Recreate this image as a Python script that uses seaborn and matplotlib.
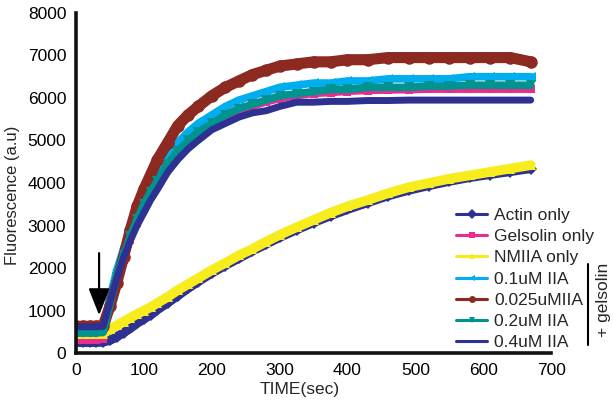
import numpy as np
import pandas as pd
import matplotlib
matplotlib.use("Agg")
import matplotlib.pyplot as plt
from matplotlib.lines import Line2D
import seaborn as sns

sns.set_style("white")
plt.rcParams['font.family'] = ['Liberation Sans', 'DejaVu Sans']

# ---- data ----
time = [0, 10, 20, 30, 40, 50, 60, 70, 80, 90, 100, 110, 120, 135, 150, 165, 180,
        200, 220, 240, 260, 280, 300, 325, 350, 375, 400, 430, 460, 490, 520, 550,
        580, 610, 640, 670]

actin_only = [250, 250, 250, 250, 260, 300, 380, 480, 580, 700, 800, 900, 1020, 1180,
              1350, 1520, 1680, 1880, 2060, 2230, 2400, 2560, 2720, 2900, 3070, 3230,
              3380, 3540, 3700, 3830, 3940, 4040, 4130, 4200, 4270, 4340]
gelsolin_only = [300, 300, 300, 300, 320, 1050, 1700, 2200, 2650, 3050, 3400, 3700,
                 3950, 4350, 4650, 4900, 5100, 5320, 5520, 5680, 5800, 5900, 5980, 6050,
                 6100, 6120, 6150, 6170, 6180, 6190, 6200, 6200, 6200, 6200, 6200, 6200]
nmiia_only = [450, 450, 450, 450, 460, 560, 650, 740, 830, 920, 1000, 1080, 1180, 1320,
              1480, 1620, 1760, 1950, 2120, 2300, 2450, 2620, 2780, 2960, 3130, 3300,
              3450, 3600, 3760, 3900, 4000, 4100, 4180, 4260, 4340, 4420]
iia_0_1 = [600, 600, 600, 600, 620, 1300, 1950, 2450, 2950, 3350, 3700, 4000, 4250,
           4650, 4950, 5200, 5400, 5600, 5800, 5950, 6050, 6150, 6250, 6300, 6350, 6350,
           6400, 6400, 6450, 6450, 6450, 6450, 6500, 6500, 6500, 6500]
iia_0_025 = [630, 630, 630, 630, 640, 1100, 1650, 2250, 2900, 3450, 3850, 4200, 4550,
             4950, 5350, 5600, 5800, 6050, 6250, 6400, 6550, 6650, 6750, 6800, 6850, 6850,
             6900, 6900, 6950, 6950, 6950, 6950, 6950, 6950, 6950, 6850]
iia_0_2 = [470, 470, 470, 470, 490, 1150, 1800, 2300, 2750, 3150, 3500, 3800, 4050,
           4450, 4750, 5000, 5200, 5400, 5600, 5750, 5850, 5950, 6050, 6100, 6150, 6200,
           6200, 6250, 6250, 6250, 6280, 6280, 6300, 6300, 6300, 6300]
iia_0_4 = [620, 620, 620, 620, 630, 1200, 1750, 2250, 2650, 3000, 3300, 3600, 3850,
           4250, 4550, 4800, 5000, 5250, 5400, 5550, 5650, 5700, 5800, 5900, 5900, 5920,
           5920, 5940, 5940, 5950, 5950, 5950, 5950, 5950, 5950, 5950]

labels = ["Actin only", "Gelsolin only", "NMIIA only", "0.1uM IIA",
          "0.025uMIIA", "0.2uM IIA", "0.4uM IIA"]
series = [actin_only, gelsolin_only, nmiia_only, iia_0_1, iia_0_025, iia_0_2, iia_0_4]
colors = ["#2E3192", "#EC2C8C", "#F7EC1E", "#00AEEF", "#8C2A22", "#00938F", "#2E3192"]
markers = ["D", "s", "^", "<", "o", "v", None]
lws = [6.5, 5.0, 7.0, 5.5, 8.0, 5.5, 5.0]
msizes = [6, 6, 7, 7, 9, 7, 0]

x_ticks = [0, 100, 200, 300, 400, 500, 600, 700]
y_ticks = [0, 1000, 2000, 3000, 4000, 5000, 6000, 7000, 8000]

fig = plt.figure(figsize=(6.13, 4.04), dpi=100)
ax = fig.add_axes([0.124, 0.126, 0.775, 0.842])

for lab, vals, c, m, lw, ms in zip(labels, series, colors, markers, lws, msizes):
    df = pd.DataFrame({"t": time, "v": vals})
    sns.lineplot(data=df, x="t", y="v", ax=ax, color=c, lw=lw,
                 marker=m if m else None, markersize=ms, markeredgewidth=0,
                 solid_capstyle="round", solid_joinstyle="round")

ax.set_xlim(0, 700)
ax.set_ylim(0, 8000)
ax.set_xticks(x_ticks)
ax.set_yticks(y_ticks)
ax.tick_params(axis="both", direction="out", length=4, width=2.5, labelsize=12.5,
               colors="black", pad=3)
for s in ["top", "right"]:
    ax.spines[s].set_visible(False)
for s in ["left", "bottom"]:
    ax.spines[s].set_linewidth(2.6)
    ax.spines[s].set_color("#111111")

ax.set_xlabel("TIME(sec)", fontsize=12.5, labelpad=1)
ax.set_ylabel("Fluorescence (a.u)", fontsize=12, labelpad=4)
ax.xaxis.set_label_coords(0.47, -0.085)
ax.yaxis.set_label_coords(-0.118, 0.465)

# arrow marking addition
ax.annotate("", xy=(34, 890), xytext=(34, 2350),
            arrowprops=dict(arrowstyle="-|>,head_length=1.65,head_width=0.65",
                            lw=1.6, color="black", shrinkA=0, shrinkB=0,
                            mutation_scale=10))

handles = [Line2D([0], [0], color=c, lw=2.2, marker=m if m else None,
                  markersize=5, markeredgewidth=0)
           for c, m in zip(colors, markers)]
leg = ax.legend(handles, labels, loc="upper left", bbox_to_anchor=(0.80, 0.427),
                frameon=False, fontsize=12.5, handlelength=1.8, handletextpad=0.4,
                labelspacing=0.35, borderaxespad=0, borderpad=0)

# "+ gelsolin" bracket
fig.add_artist(Line2D([0.959, 0.959], [0.146, 0.347], color="black", lw=1.5,
                      transform=fig.transFigure))
fig.text(0.984, 0.257, "+ gelsolin", rotation=90, ha="center", va="center",
         fontsize=12.5)

fig.savefig("out.png", dpi=100)
